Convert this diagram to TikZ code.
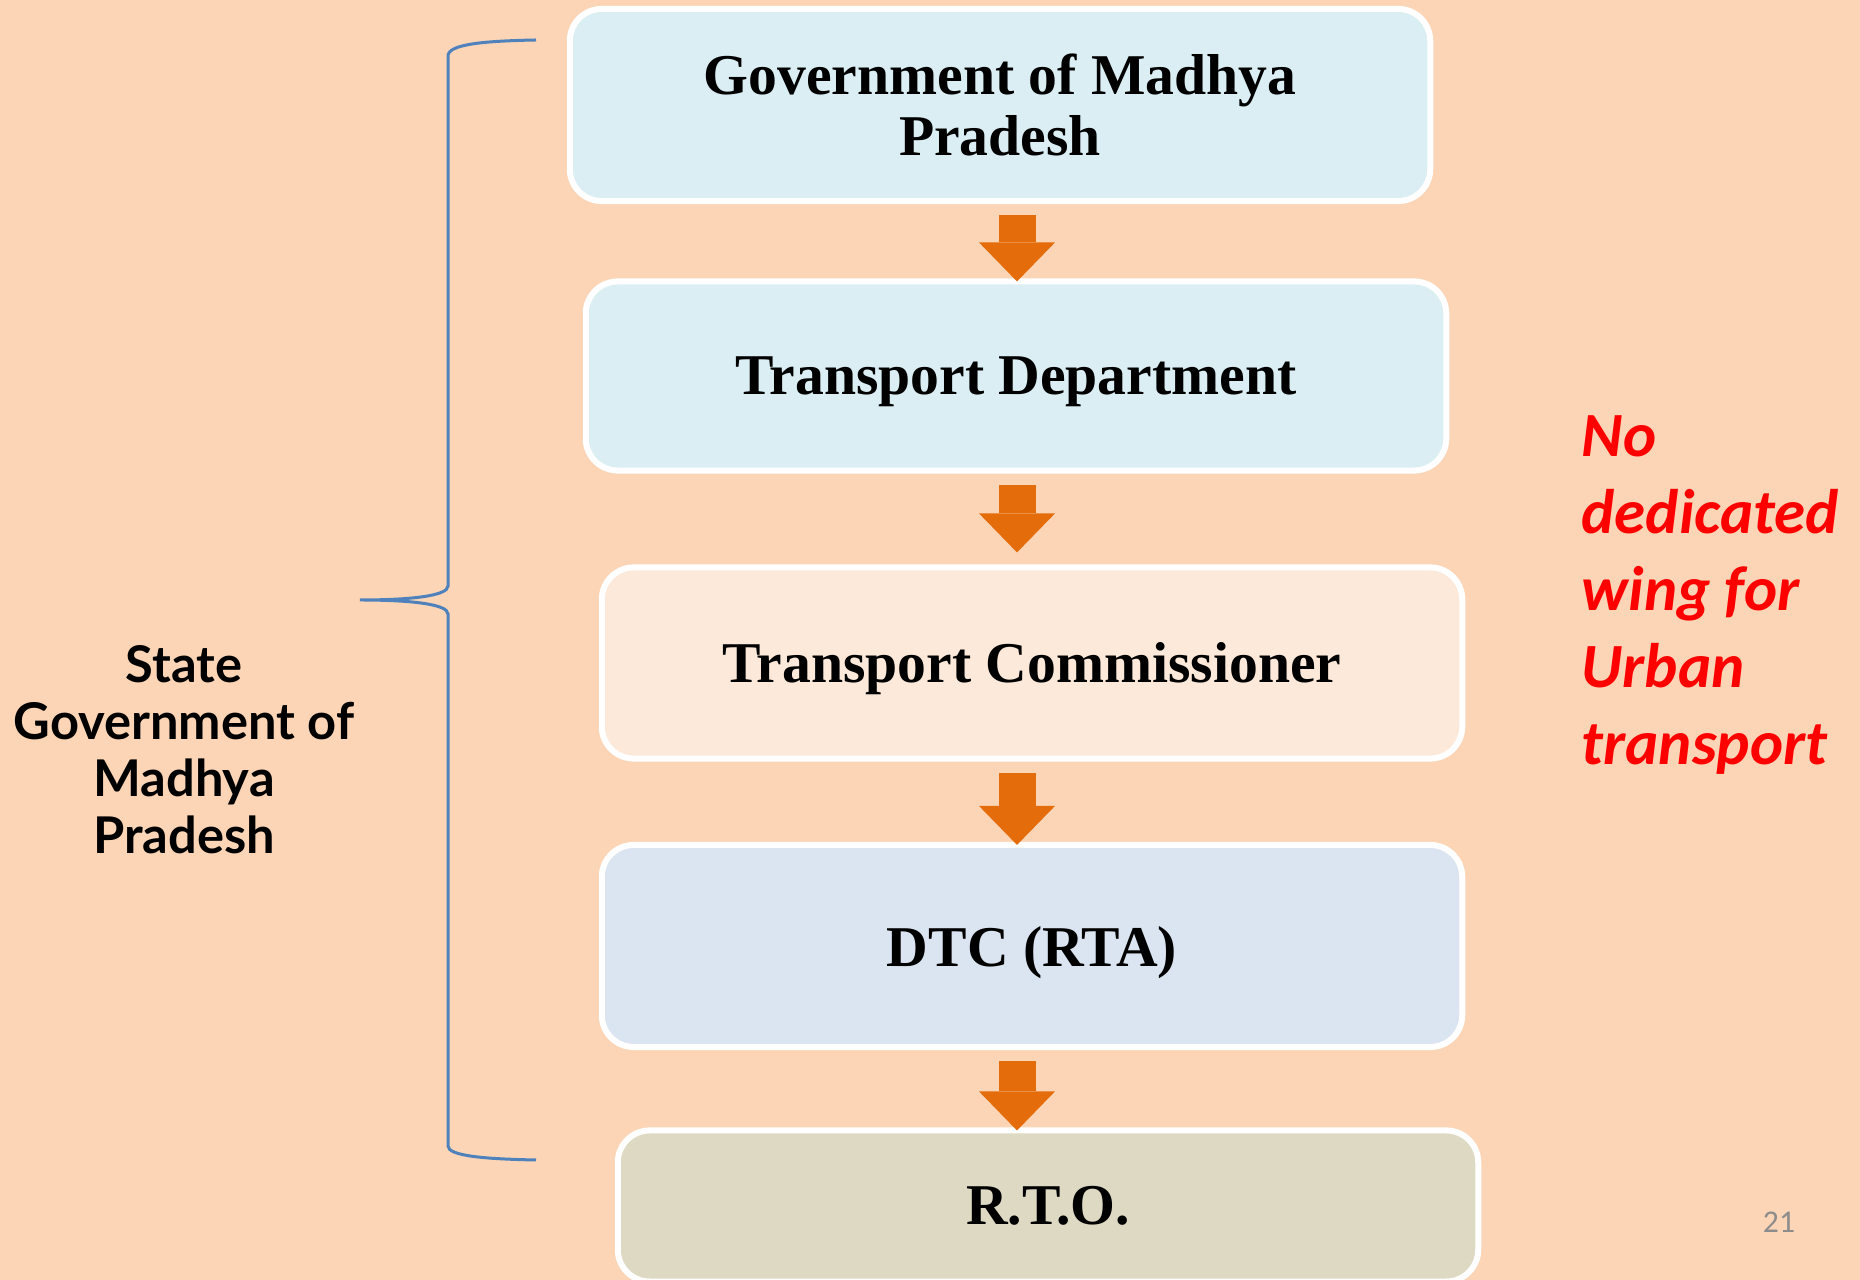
\documentclass[tikz,border=0pt]{standalone}
\usepackage{fontspec}
\setmainfont{Liberation Serif}
\newfontfamily\gillfont{Lato}
\newfontfamily\calfont{Carlito}
\usepackage{tikz}
\usetikzlibrary{arrows.meta}

\definecolor{slidebg}{HTML}{FBD5B5}
\definecolor{boxblue}{HTML}{DAEEF3}
\definecolor{boxpeach}{HTML}{FDE9D9}
\definecolor{boxsteel}{HTML}{DBE5F1}
\definecolor{boxkhaki}{HTML}{DDD9C3}
\definecolor{flowor}{HTML}{E46C0A}
\definecolor{bracebl}{HTML}{4F81BD}
\definecolor{numgray}{HTML}{8C8C8C}

\begin{document}
\begin{tikzpicture}[x=.01cm,y=-.01cm]%
\tikzstyle{level}=[draw=white,line width=.06cm,rounded corners=.32cm,minimum width=8.6cm,inner sep=0pt,align=center,font=\fontsize{16.4}{17.1}\selectfont\bfseries] %%
\tikzstyle{flow}=[draw=flowor,line width=.37cm,-{Triangle[width=.76cm,length=.39cm,line width=0pt]},shorten <=.11cm,shorten >=-.03cm] %%
\useasboundingbox (0,0) rectangle (1860,1280);
\clip (0,0) rectangle (1860,1280);
\fill[slidebg] (0,0) rectangle (1860,1280);
\begin{scope}
\node[level,fill=boxblue,minimum height=1.92cm] (gov) at (1000,105) {Government of Madhya\\Pradesh}; %%
\node[level,fill=boxblue,minimum height=1.89cm,text depth=0pt] (tdept) at (1016,376) {Transport Department}; %%
\node[level,fill=boxpeach,minimum height=1.91cm,text depth=0pt] (tcomm) at (1032,663) {Transport Commissioner}; %%
\node[level,fill=boxsteel,minimum height=2.02cm,text depth=0pt] (dtc) at (1032,946) {DTC (RTA)}; %%
\node[level,fill=boxkhaki,minimum height=1.51cm] (rto) at (1048,1206) {R.T.O.}; %%
\end{scope}
\coordinate (ax) at (1017,0);
\draw[flow] (gov.south -| ax)--(tdept.north -| ax); %%
\draw[flow,shorten >=.12cm] (tdept.south -| ax)--(tcomm.north -| ax); %%
\draw[flow] (tcomm.south -| ax)--(dtc.north -| ax); %%
\draw[flow] (dtc.south -| ax)--(rto.north -| ax); %%
\draw[bracebl,line width=.03cm] (536,40) .. controls (485,41) and (448,44) .. (448,56) -- (448,586) .. controls (448,596) and (410,600) .. (360,600) .. controls (410,600) and (448,604) .. (448,614) -- (448,1146) .. controls (448,1156) and (485,1159) .. (536,1160);
\node[align=center,font=\gillfont\bfseries\fontsize{14.4}{16.2}\selectfont] (state) at (184,750) {State\\Government of\\Madhya\\Pradesh};%
\node[anchor=north west,inner sep=0pt,text=red,align=left,font=\calfont\bfseries\itshape\fontsize{17.9}{21.9}\selectfont] (nowing) at (1581,415) {No\\dedicated\\wing for\\Urban\\transport};%
\node[text=numgray,font=\calfont\fontsize{9}{10}\selectfont] (pgno) at (1779,1222) {21};%
\end{tikzpicture}
\end{document}
